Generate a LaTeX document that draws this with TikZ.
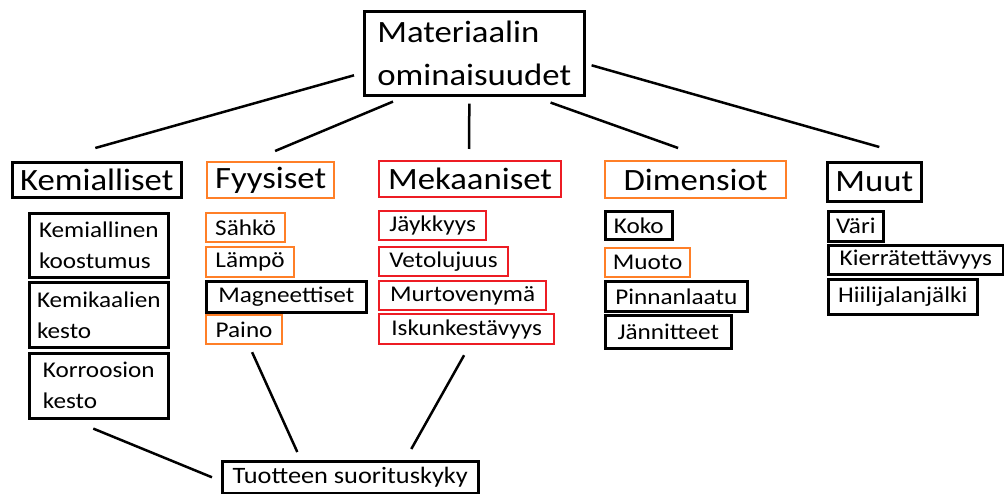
\documentclass[tikz,border=0pt]{standalone}
\usepackage{fontspec}
\setmainfont[FakeStretch=1.12]{Carlito}
\usetikzlibrary{calc}
\definecolor{paintorange}{RGB}{255,127,39}
\definecolor{paintred}{RGB}{237,28,36}
\newcommand{\bigtxt}{\fontsize{31}{43}\selectfont}
\newcommand{\smalltxt}{\fontsize{22.5}{31}\selectfont}
\newcommand{\midtxt}{\fontsize{23.5}{31}\selectfont}

\begin{document}
\begin{tikzpicture}[x=1pt,y=-1pt]
       \tikzstyle{frame} = [rectangle, draw=black, line width=2.6pt, anchor=north west, inner sep=0pt, align=left];
       \tikzstyle{orangeframe} = [frame, draw=paintorange, line width=2.2pt];
       \tikzstyle{redframe} = [frame, draw=paintred, line width=2.2pt];
       \tikzstyle{head} = [font=\bigtxt];
       \tikzstyle{item} = [font=\smalltxt];
       \tikzstyle{link} = [draw=black, line width=2.5pt];
       \useasboundingbox (0,0) rectangle (1004,494);

       % top
       \node[frame, head, minimum width=220pt, minimum height=84pt] (mat) at (363,10) {Materiaalin\\ominaisuudet};

       % headings
       \node[frame, head, minimum width=169pt, minimum height=35pt] (kem) at (11,161) {Kemialliset};
       \node[orangeframe, head, minimum width=127pt, minimum height=36pt] (fyy) at (206,161) {Fyysiset};
       \node[redframe, head, minimum width=182pt, minimum height=36pt] (mek) at (378,160) {Mekaaniset};
       \node[orangeframe, head, minimum width=181pt, minimum height=37pt] (dim) at (604,160) {Dimensiot};
       \node[frame, head, minimum width=94pt, minimum height=39pt] (muu) at (826,161) {Muut};

       % Kemialliset
       \node[frame, item, minimum width=139pt, minimum height=64pt] (koostumus) at (28,212) {Kemiallinen\\koostumus};
       \node[frame, item, minimum width=139pt, minimum height=65pt] (kemikaalit) at (28,281) {Kemikaalien\\kesto};
       \node[frame, item, minimum width=139pt, minimum height=65pt] (korroosio) at (28,352) {Korroosion\\kesto};

       % Fyysiset
       \node[orangeframe, item, minimum width=79pt, minimum height=29pt] (sahko) at (205,212) {Sähkö};
       \node[orangeframe, item, minimum width=88pt, minimum height=30pt] (lampo) at (205,246) {Lämpö};
       \node[frame, item, minimum width=160pt, minimum height=31pt] (magneetti) at (205,280) {Magneettiset};
       \node[orangeframe, item, minimum width=76pt, minimum height=29pt] (paino) at (205,314) {Paino};

       % Mekaaniset
       \node[redframe, item, minimum width=107pt, minimum height=29pt] (jaykkyys) at (378,210) {Jäykkyys};
       \node[redframe, item, minimum width=129pt, minimum height=29pt] (veto) at (378,246) {Vetolujuus};
       \node[redframe, item, minimum width=167pt, minimum height=29pt] (murto) at (378,280) {Murtovenymä};
       \node[redframe, item, minimum width=175pt, minimum height=30pt] (isku) at (378,313) {Iskunkestävyys};

       % Dimensiot
       \node[frame, item, minimum width=67pt, minimum height=28pt] (koko) at (604,210) {Koko};
       \node[orangeframe, item, minimum width=85pt, minimum height=29pt] (muoto) at (604,247) {Muoto};
       \node[frame, item, minimum width=142pt, minimum height=30pt] (pinta) at (604,280) {Pinnanlaatu};
       \node[frame, item, minimum width=126pt, minimum height=33pt] (jannite) at (604,314) {Jännitteet};

       % Muut
       \node[frame, item, minimum width=55pt, minimum height=30pt] (vari) at (827,210) {Väri};
       \node[frame, item, minimum width=175pt, minimum height=29pt] (kierratys) at (827,244) {Kierrätettävyys};
       \node[frame, item, minimum width=149pt, minimum height=35pt] (hiili) at (827,278) {Hiilijalanjälki};

       % bottom
       \node[frame, font=\midtxt, minimum width=256pt, minimum height=32pt] (tuote) at (221,460) {Tuotteen suorituskyky};

       \draw[link] ($(kem.north)+(-1.5,-13)$) -- ($(mat.west)+(-9,22)$);
       \draw[link] ($(fyy.north)+(4.5,-10)$) -- ($(mat.south west)+(30,5)$);
       \draw[link] ($(mek.north)+(-1,-11)$) -- ($(mat.south)+(-5,7)$);
       \draw[link] ($(mat.south east)+(-35,6)$) -- ($(dim.north)+(-17.5,-12)$);
       \draw[link] ($(mat.east)+(6,12)$) -- ($(muu.north)+(5,-14)$);

       \draw[link] ($(korroosio.south)+(-5.5,9)$) -- ($(tuote.west)+(-9,0)$);
       \draw[link] ($(paino.south)+(8,7)$) -- ($(tuote.north)+(-53,-8)$);
       \draw[link] ($(isku.south)+(-2.5,10)$) -- ($(tuote.north)+(61,-11)$);
     \end{tikzpicture}
\end{document}
